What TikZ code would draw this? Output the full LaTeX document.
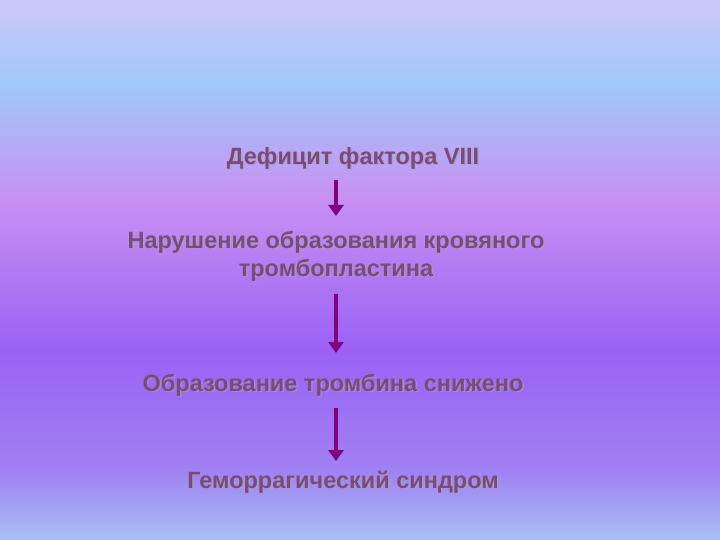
\documentclass[tikz,border=0pt]{standalone}
\usepackage{fontspec}
\setmainfont{Liberation Sans}
\usetikzlibrary{arrows.meta}
\definecolor{txt}{HTML}{7A4A7E}
\definecolor{arr}{HTML}{800080}
\definecolor{ga}{HTML}{A8C0F4}
\definecolor{gb}{HTML}{A080F2}
\definecolor{gc}{HTML}{9A62F4}
\definecolor{gd}{HTML}{C890F2}
\definecolor{ge}{HTML}{A0C8F8}
\definecolor{gf}{HTML}{CCC8F8}
\begin{document}
\begin{tikzpicture}[x=1pt,y=-1pt,
  lbl/.style={font=\fontsize{23.5}{28}\selectfont\bfseries, text=txt, align=center},
  sh/.style={font=\fontsize{23.5}{28}\selectfont\bfseries, text=black!35, align=center, opacity=0.6},
  arrow/.style={draw=arr, line width=4.5pt, -{Triangle[length=11pt,width=15pt]}}]
\shade[top color=gf, bottom color=ge] (0,0) rectangle (720,85);
\shade[top color=ge, bottom color=gd] (0,85) rectangle (720,200);
\shade[top color=gd, bottom color=gc] (0,200) rectangle (720,350);
\shade[top color=gc, bottom color=gb] (0,350) rectangle (720,470);
\shade[top color=gb, bottom color=ga] (0,470) rectangle (720,540);
\useasboundingbox (0,0) rectangle (720,540);
\foreach \p/\t/\n in {{353,158}/{Дефицит фактора VIII}/a,{336,256}/{Нарушение образования кровяного\\тромбопластина}/b,{333,385}/{Образование тромбина снижено}/c,{343,482}/{Геморрагический синдром}/d}{
  \node[sh] at ([shift={(1.5,1.5)}]\p) {\t};
  \node[lbl] (\n) at (\p) {\t};
}
\coordinate (a1) at (336,180); \coordinate (a2) at (336,216);
\coordinate (b1) at (336,294); \coordinate (b2) at (336,353);
\coordinate (c1) at (336,408); \coordinate (c2) at (336,461);
\draw[arrow] (a1) -- (a2);
\draw[arrow] (b1) -- (b2);
\draw[arrow] (c1) -- (c2);
\end{tikzpicture}
\end{document}
